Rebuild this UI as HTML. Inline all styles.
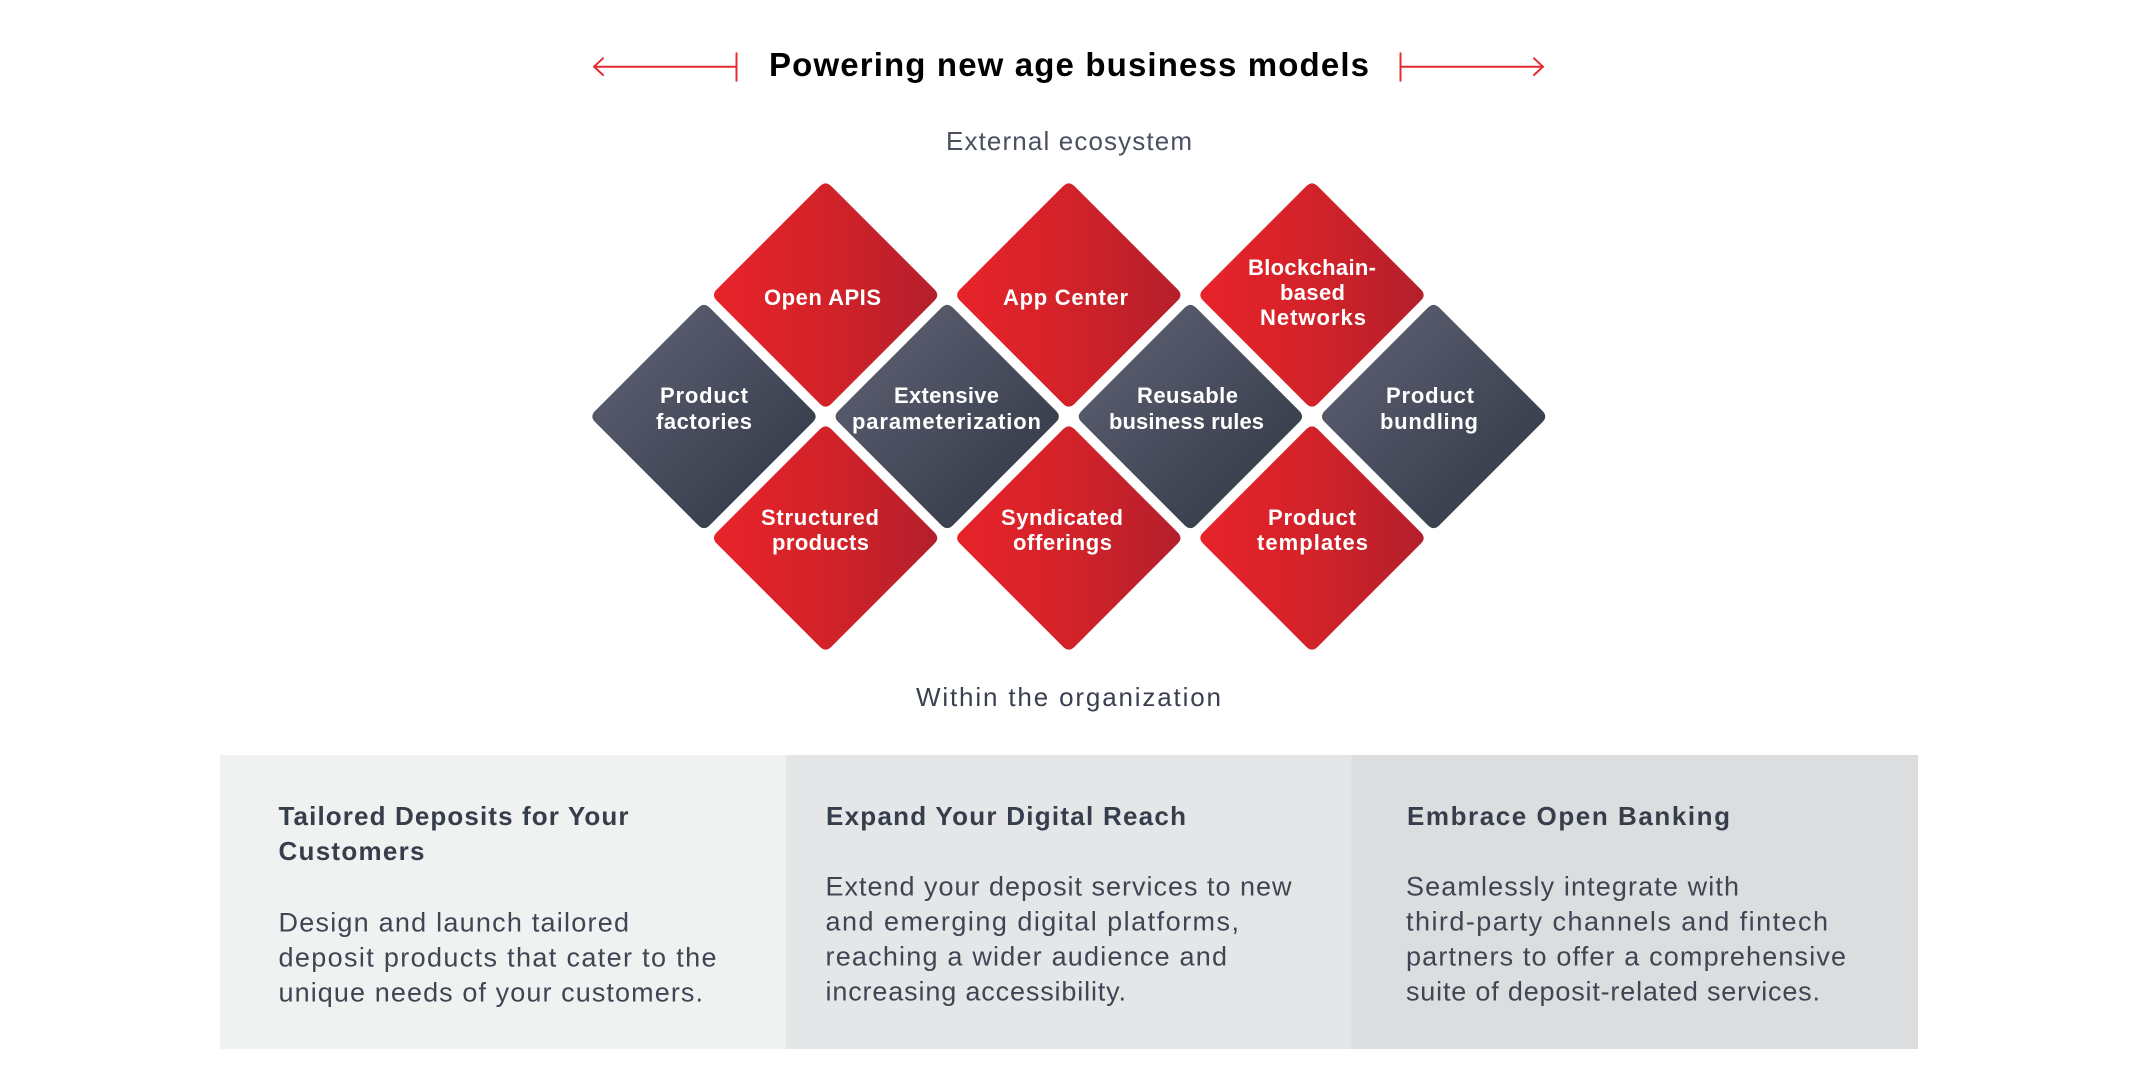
<!DOCTYPE html>
<html>
<head>
<meta charset="utf-8">
<style>
html,body{margin:0;padding:0;background:#ffffff;}
body{width:2138px;height:1090px;overflow:hidden;}
svg{display:block;}
text{font-family:"Liberation Sans",Arial,sans-serif;}
.lbl{font-size:22px;font-weight:bold;fill:#ffffff;}
.hd{font-size:26px;font-weight:bold;fill:#363d4b;}
.bd{font-size:27px;fill:#3f4553;}
</style>
</head>
<body>
<svg width="2138" height="1090" viewBox="0 0 2138 1090" xmlns="http://www.w3.org/2000/svg">
<defs>
<linearGradient id="gr" x1="0" y1="0" x2="1" y2="0">
<stop offset="0" stop-color="#e8232a"/>
<stop offset="0.5" stop-color="#d32229"/>
<stop offset="1" stop-color="#b41f2c"/>
</linearGradient>
<linearGradient id="gd" x1="0.1" y1="0.1" x2="0.9" y2="0.9">
<stop offset="0" stop-color="#5c5f71"/>
<stop offset="1" stop-color="#343a48"/>
</linearGradient>
</defs>

<!-- Title with arrows -->
<g stroke="#e52b2f" stroke-width="2" fill="none" stroke-linecap="round" stroke-linejoin="round">
<line x1="594" y1="66.7" x2="736.5" y2="66.7"/>
<line x1="736.5" y1="53.3" x2="736.5" y2="80.7"/>
<polyline points="603,58.3 594,66.7 603,75"/>
<line x1="1400.5" y1="66.7" x2="1543" y2="66.7"/>
<line x1="1400.5" y1="53.3" x2="1400.5" y2="80.7"/>
<polyline points="1534,58.3 1543,66.7 1534,75"/>
</g>
<text x="769" y="76" font-size="33" font-weight="bold" fill="#000000" textLength="600" lengthAdjust="spacing">Powering new age business models</text>

<text x="946" y="150" font-size="26" fill="#4a5060" textLength="246" lengthAdjust="spacing">External ecosystem</text>

<!-- Diamonds -->
<g>
<path transform="translate(825.6,295)" fill="url(#gr)" d="M -5.66,-108.84 Q 0,-114.5 5.66,-108.84 L 108.84,-5.66 Q 114.5,0 108.84,5.66 L 5.66,108.84 Q 0,114.5 -5.66,108.84 L -108.84,5.66 Q -114.5,0 -108.84,-5.66 Z"/>
<path transform="translate(1068.8,295)" fill="url(#gr)" d="M -5.66,-108.84 Q 0,-114.5 5.66,-108.84 L 108.84,-5.66 Q 114.5,0 108.84,5.66 L 5.66,108.84 Q 0,114.5 -5.66,108.84 L -108.84,5.66 Q -114.5,0 -108.84,-5.66 Z"/>
<path transform="translate(1312,295)" fill="url(#gr)" d="M -5.66,-108.84 Q 0,-114.5 5.66,-108.84 L 108.84,-5.66 Q 114.5,0 108.84,5.66 L 5.66,108.84 Q 0,114.5 -5.66,108.84 L -108.84,5.66 Q -114.5,0 -108.84,-5.66 Z"/>

<path transform="translate(704,416.5)" fill="url(#gd)" d="M -5.66,-108.84 Q 0,-114.5 5.66,-108.84 L 108.84,-5.66 Q 114.5,0 108.84,5.66 L 5.66,108.84 Q 0,114.5 -5.66,108.84 L -108.84,5.66 Q -114.5,0 -108.84,-5.66 Z"/>
<path transform="translate(947.2,416.5)" fill="url(#gd)" d="M -5.66,-108.84 Q 0,-114.5 5.66,-108.84 L 108.84,-5.66 Q 114.5,0 108.84,5.66 L 5.66,108.84 Q 0,114.5 -5.66,108.84 L -108.84,5.66 Q -114.5,0 -108.84,-5.66 Z"/>
<path transform="translate(1190.4,416.5)" fill="url(#gd)" d="M -5.66,-108.84 Q 0,-114.5 5.66,-108.84 L 108.84,-5.66 Q 114.5,0 108.84,5.66 L 5.66,108.84 Q 0,114.5 -5.66,108.84 L -108.84,5.66 Q -114.5,0 -108.84,-5.66 Z"/>
<path transform="translate(1433.6,416.5)" fill="url(#gd)" d="M -5.66,-108.84 Q 0,-114.5 5.66,-108.84 L 108.84,-5.66 Q 114.5,0 108.84,5.66 L 5.66,108.84 Q 0,114.5 -5.66,108.84 L -108.84,5.66 Q -114.5,0 -108.84,-5.66 Z"/>

<path transform="translate(825.6,538)" fill="url(#gr)" d="M -5.66,-108.84 Q 0,-114.5 5.66,-108.84 L 108.84,-5.66 Q 114.5,0 108.84,5.66 L 5.66,108.84 Q 0,114.5 -5.66,108.84 L -108.84,5.66 Q -114.5,0 -108.84,-5.66 Z"/>
<path transform="translate(1068.8,538)" fill="url(#gr)" d="M -5.66,-108.84 Q 0,-114.5 5.66,-108.84 L 108.84,-5.66 Q 114.5,0 108.84,5.66 L 5.66,108.84 Q 0,114.5 -5.66,108.84 L -108.84,5.66 Q -114.5,0 -108.84,-5.66 Z"/>
<path transform="translate(1312,538)" fill="url(#gr)" d="M -5.66,-108.84 Q 0,-114.5 5.66,-108.84 L 108.84,-5.66 Q 114.5,0 108.84,5.66 L 5.66,108.84 Q 0,114.5 -5.66,108.84 L -108.84,5.66 Q -114.5,0 -108.84,-5.66 Z"/>
</g>

<!-- Diamond labels -->
<g class="lbl">
<text class="lbl" x="764" y="305" textLength="117" lengthAdjust="spacing">Open APIS</text>
<text class="lbl" x="1003" y="305" textLength="125" lengthAdjust="spacing">App Center</text>
<text class="lbl" x="1248" y="275" textLength="128" lengthAdjust="spacing">Blockchain-</text>
<text class="lbl" x="1280" y="300" textLength="65" lengthAdjust="spacing">based</text>
<text class="lbl" x="1260" y="325" textLength="106" lengthAdjust="spacing">Networks</text>

<text class="lbl" x="660" y="403" textLength="88" lengthAdjust="spacing">Product</text>
<text class="lbl" x="656" y="429" textLength="96" lengthAdjust="spacing">factories</text>
<text class="lbl" x="894" y="403" textLength="105" lengthAdjust="spacing">Extensive</text>
<text class="lbl" x="852" y="429" textLength="189" lengthAdjust="spacing">parameterization</text>
<text class="lbl" x="1137" y="403" textLength="101" lengthAdjust="spacing">Reusable</text>
<text class="lbl" x="1109" y="429" textLength="155" lengthAdjust="spacing">business rules</text>
<text class="lbl" x="1386" y="403" textLength="88" lengthAdjust="spacing">Product</text>
<text class="lbl" x="1380" y="429" textLength="98" lengthAdjust="spacing">bundling</text>

<text class="lbl" x="761" y="525" textLength="118" lengthAdjust="spacing">Structured</text>
<text class="lbl" x="772" y="550" textLength="97" lengthAdjust="spacing">products</text>
<text class="lbl" x="1001" y="525" textLength="122" lengthAdjust="spacing">Syndicated</text>
<text class="lbl" x="1013" y="550" textLength="99" lengthAdjust="spacing">offerings</text>
<text class="lbl" x="1268" y="525" textLength="88" lengthAdjust="spacing">Product</text>
<text class="lbl" x="1257" y="550" textLength="111" lengthAdjust="spacing">templates</text>
</g>

<text x="916" y="706" font-size="26" fill="#3a4050" textLength="305" lengthAdjust="spacing">Within the organization</text>

<!-- Panels -->
<rect x="220" y="755" width="566" height="294" fill="#f0f1f1"/>
<rect x="786" y="755" width="566" height="294" fill="#e5e6e8"/>
<rect x="1351.5" y="755" width="566.5" height="294" fill="#dcdddf"/>

<text class="hd" x="278.5" y="825" textLength="350" lengthAdjust="spacing">Tailored Deposits for Your</text>
<text class="hd" x="278.5" y="860" textLength="146" lengthAdjust="spacing">Customers</text>
<text class="bd" x="278.5" y="931.7" textLength="350.5" lengthAdjust="spacing">Design and launch tailored</text>
<text class="bd" x="278.5" y="966.7" textLength="438" lengthAdjust="spacing">deposit products that cater to the</text>
<text class="bd" x="278.5" y="1001.7" textLength="424.5" lengthAdjust="spacing">unique needs of your customers.</text>

<text class="hd" x="826" y="825" textLength="360" lengthAdjust="spacing">Expand Your Digital Reach</text>
<text class="bd" x="825.5" y="895.7" textLength="466" lengthAdjust="spacing">Extend your deposit services to new</text>
<text class="bd" x="825.5" y="930.7" textLength="413.5" lengthAdjust="spacing">and emerging digital platforms,</text>
<text class="bd" x="825.5" y="965.7" textLength="401.5" lengthAdjust="spacing">reaching a wider audience and</text>
<text class="bd" x="825.5" y="1000.7" textLength="300.5" lengthAdjust="spacing">increasing accessibility.</text>

<text class="hd" x="1407" y="825" textLength="323" lengthAdjust="spacing">Embrace Open Banking</text>
<text class="bd" x="1406" y="895.7" textLength="333" lengthAdjust="spacing">Seamlessly integrate with</text>
<text class="bd" x="1406" y="930.7" textLength="422" lengthAdjust="spacing">third-party channels and fintech</text>
<text class="bd" x="1406" y="965.7" textLength="440" lengthAdjust="spacing">partners to offer a comprehensive</text>
<text class="bd" x="1406" y="1000.7" textLength="414" lengthAdjust="spacing">suite of deposit-related services.</text>
</svg>
</body>
</html>
